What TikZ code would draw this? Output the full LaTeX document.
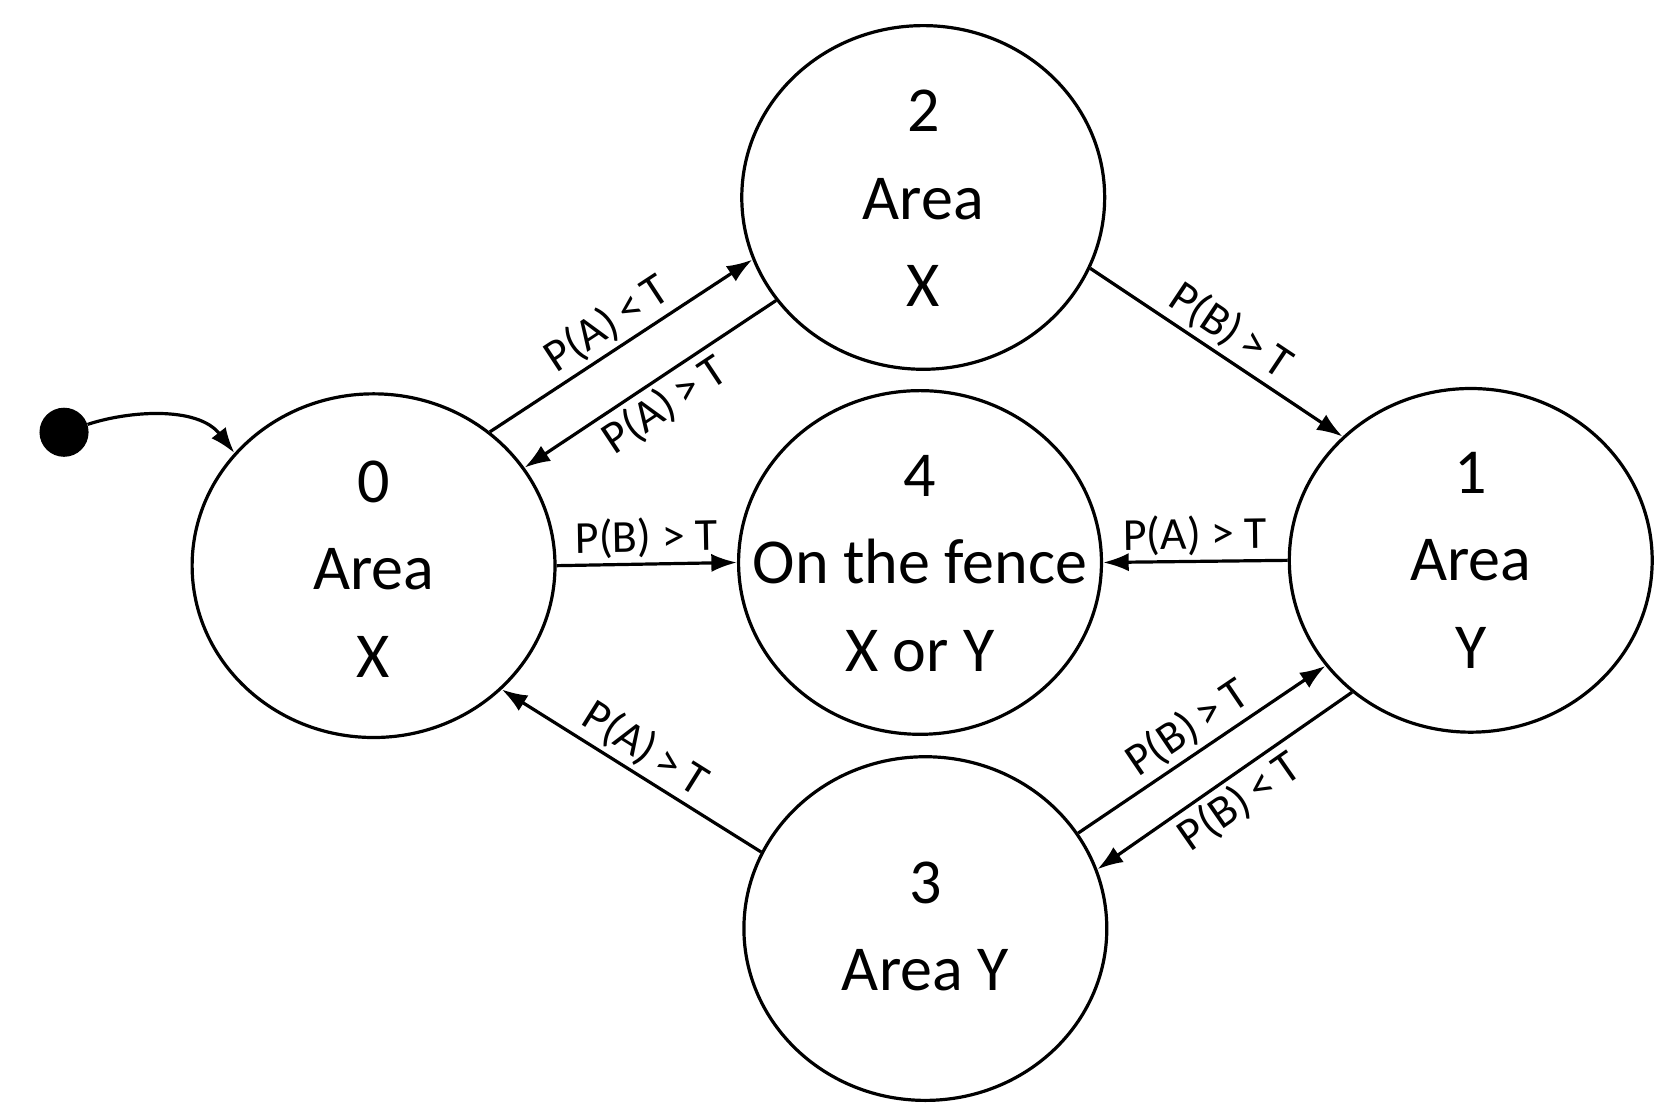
\documentclass[tikz,border=0pt]{standalone}
\usepackage{fontspec}
\setmainfont{Carlito}
\usetikzlibrary{shapes.geometric,arrows.meta}
\begin{document}
\begin{tikzpicture}[x=1pt,y=-1pt,
  st/.style={ellipse,draw,line width=3pt,minimum width=340pt,minimum height=322pt,inner sep=0pt},
  tx/.style={align=center,font=\fontsize{60}{82}\selectfont,inner sep=0pt},
  ar/.style={line width=3pt,-{Latex[length=24pt,width=17pt]}},
  lb/.style={font=\fontsize{43}{46}\selectfont,sloped,inner sep=4pt}]
\useasboundingbox (0,0) rectangle (1560,1043);
\node[st] (n0) at (350,530) {};
\node[st] (n2) at (865,185) {};
\node[st] (n4) at (862,527) {};
\node[st] (n1) at (1378,525) {};
\node[st] (n3) at (867,870) {};
\node[tx] (t0) at (350,533) {0\\Area\\X};
\node[tx] (t2) at (865,186) {2\\Area\\X};
\node[tx] (t4) at (862,528) {4\\On the fence\\X or Y};
\node[tx] (t1) at (1378,525) {1\\Area\\Y};
\node[tx] (t3) at (867,868) {3\\Area Y};
\node[circle,fill,minimum size=46pt,inner sep=0pt] (s) at (60,405) {};
\draw[ar] (s) .. controls (120,385) and (185,380) .. (n0.141);
\draw[ar] (n0.49) -- node[lb,above]{P(A)\,<\,T} (n2.200);
\draw[ar] (n2.215) -- node[lb,below]{P(A)\,>\,T} (n0.33);
\draw[ar] (n2.337) -- node[lb,above]{P(B)\,>\,T} (n1.136);
\draw[ar] (n0.0) -- node[lb,above]{P(B) > T} (n4.180);
\draw[ar] (n1.180) -- node[lb,above]{P(A) > T} (n4.0);
\draw[ar] (n3.155) -- node[lb,above]{P(A)\,>\,T} (n0.316);
\draw[ar] (n3.32) -- node[lb,above]{P(B)\,>\,T} (n1.216);
\draw[ar] (n1.228) -- node[lb,below]{P(B)\,<\,T} (n3.19);
\end{tikzpicture}
\end{document}
